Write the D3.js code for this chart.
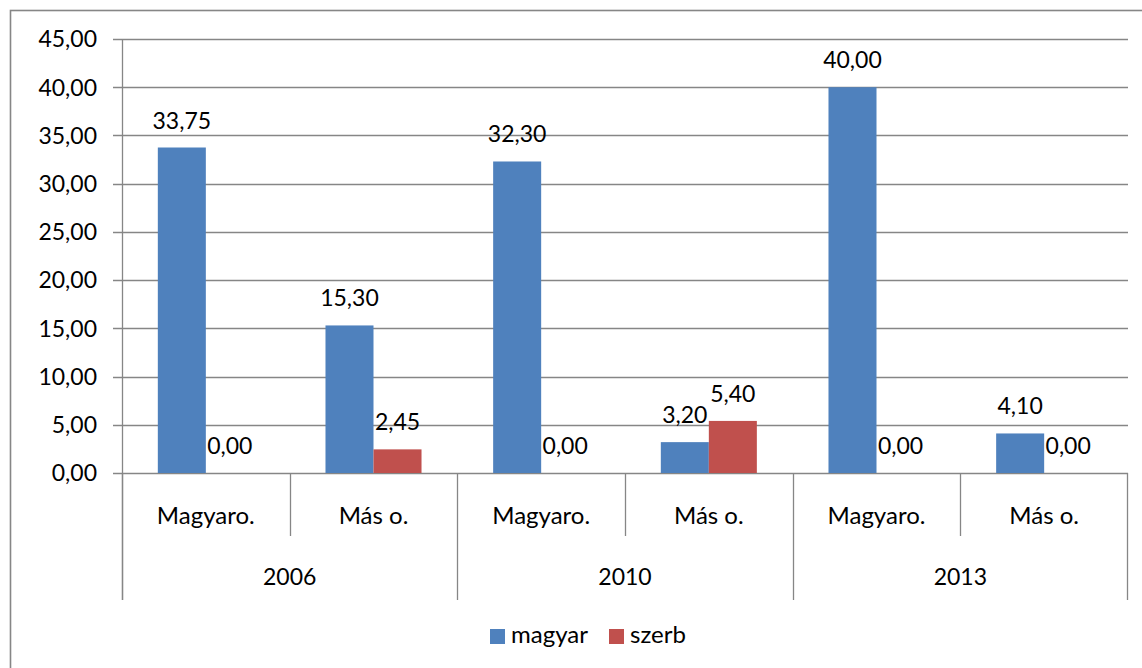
<!DOCTYPE html>
<html><head><meta charset="utf-8">
<script src="https://cdn.jsdelivr.net/npm/d3@7"></script>
<style>body{margin:0;background:#fff}svg{display:block}text{font-family:Lato,"Open Sans",sans-serif;fill:#000}</style>
</head><body>
<svg id="c" width="1142" height="668"></svg>
<script>
const years = ["2006","2010","2013"];
const subcats = ["Magyaro.","Más o."];
const series = ["magyar","szerb"];
const colors = ["#4F81BD","#C0504D"];
const magyar = [33.75,15.30,32.30,3.20,40.00,4.10];
const szerb  = [0.00,2.45,0.00,5.40,0.00,0.00];
const yTicks = [0,5,10,15,20,25,30,35,40,45];

const svg = d3.select("#c");
const L=122,R=1128,T=39,B=473;
const fmt = v => v.toFixed(2).replace(".",",");
const grid="#868686";
const fs=23, fsc=24;

svg.append("rect").attr("x",10.5).attr("y",10.5).attr("width",1150).attr("height",680).attr("fill","none").attr("stroke",grid).attr("stroke-width",1.6);

const cats=[];years.forEach(y=>subcats.forEach(s=>cats.push(y+"|"+s)));
const x=d3.scaleBand().domain(cats).range([L,R]);
const xi=d3.scaleBand().domain(series).range([0,x.bandwidth()]).paddingOuter(0.746).paddingInner(0);
const y=d3.scaleLinear().domain([0,45]).range([B,T]);

// grid
svg.append("g").selectAll("line").data(yTicks).join("line")
 .attr("x1",L-9).attr("x2",R).attr("y1",d=>Math.round(y(d))+0.5).attr("y2",d=>Math.round(y(d))+0.5)
 .attr("stroke",grid).attr("stroke-width",1.3);
svg.append("g").selectAll("text").data(yTicks).join("text")
 .attr("x",L-25).attr("y",d=>y(d)).attr("dy","0.36em").attr("text-anchor","end").attr("font-size",fs).text(fmt);
svg.append("line").attr("x1",L+0.5).attr("x2",L+0.5).attr("y1",T).attr("y2",600).attr("stroke",grid).attr("stroke-width",1.3);

// bars
const data=[];cats.forEach((c,i)=>{data.push({c,s:"magyar",v:magyar[i],col:colors[0]});data.push({c,s:"szerb",v:szerb[i],col:colors[1]});});
const g=svg.append("g");
g.selectAll("rect").data(data).join("rect")
 .attr("x",d=>x(d.c)+xi(d.s)).attr("width",xi.bandwidth())
 .attr("y",d=>y(d.v)).attr("height",d=>B-y(d.v)).attr("fill",d=>d.col);
g.selectAll("text").data(data).join("text")
 .attr("x",d=>x(d.c)+xi(d.s)+xi.bandwidth()/2).attr("y",d=>y(d.v)-19)
 .attr("text-anchor","middle").attr("font-size",fs).text(d=>fmt(d.v));

// category axis
const ax=svg.append("g");
cats.forEach((c,i)=>{
  const x0=x(c);
  const isYear=i%2===0;
  ax.append("line").attr("x1",Math.round(x0)+0.5).attr("x2",Math.round(x0)+0.5).attr("y1",B).attr("y2",isYear?600:536).attr("stroke",grid).attr("stroke-width",1.3);
  ax.append("text").attr("x",x0+x.bandwidth()/2).attr("y",515).attr("dy","0.36em").attr("text-anchor","middle").attr("font-size",fsc).text(c.split("|")[1]);
});
ax.append("line").attr("x1",R-0.5).attr("x2",R-0.5).attr("y1",B).attr("y2",600).attr("stroke",grid).attr("stroke-width",1.3);
years.forEach(yr=>{
  const x0=x(yr+"|"+subcats[0]);
  ax.append("text").attr("x",x0+x.bandwidth()).attr("y",577).attr("dy","0.36em").attr("text-anchor","middle").attr("font-size",fs).text(yr);
});

// legend
const lg=svg.append("g");
const lx=[490,609];
series.forEach((s,i)=>{
  lg.append("rect").attr("x",lx[i]).attr("y",629).attr("width",15).attr("height",15).attr("fill",colors[i]);
  lg.append("text").attr("x",lx[i]+21).attr("y",643).attr("font-size",fsc).text(s);
});
</script>
</body></html>
